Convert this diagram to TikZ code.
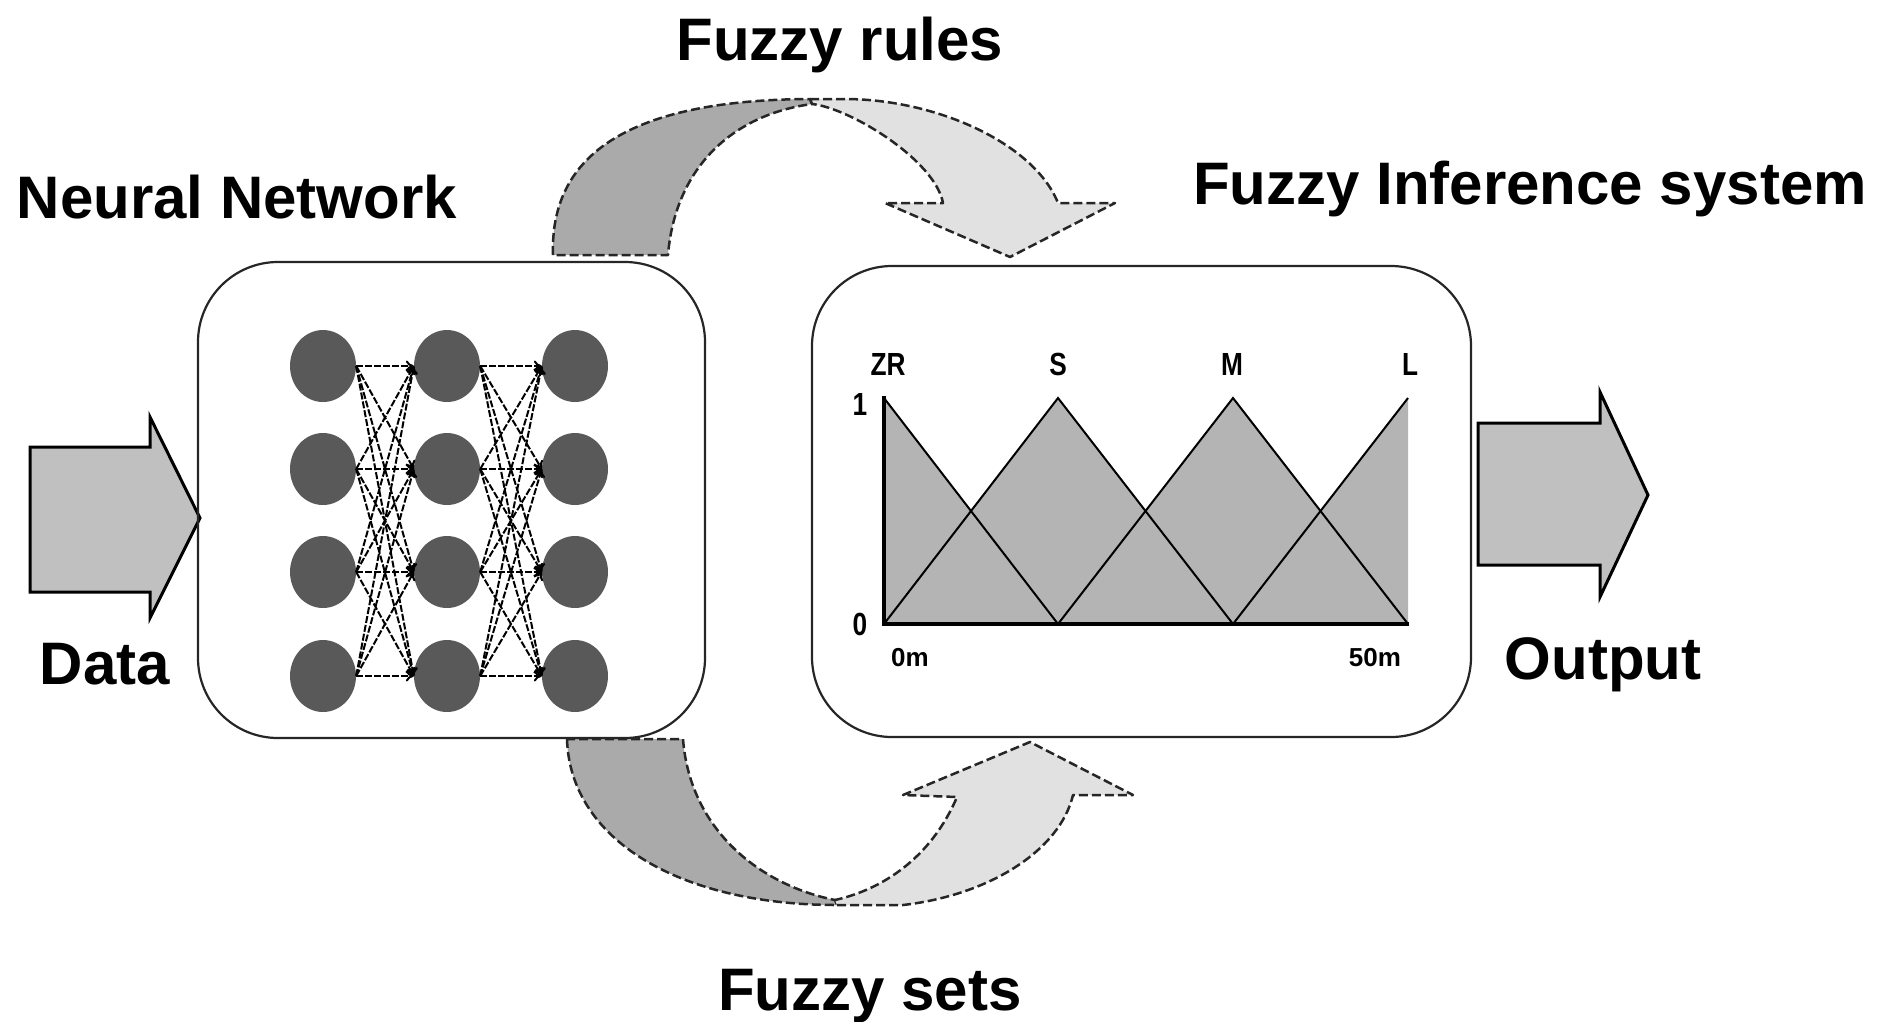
\documentclass[tikz,border=0pt]{standalone}
\usepackage{fontspec}
\setmainfont{Liberation Sans}
\newfontfamily\chartfont[FakeStretch=0.82]{Liberation Sans}
\usetikzlibrary{arrows.meta,shapes.geometric}
\definecolor{bandDark}{RGB}{170,170,170}
\definecolor{bandLight}{RGB}{225,225,225}
\definecolor{arrowGray}{RGB}{192,192,192}
\definecolor{chartGray}{RGB}{180,180,180}
\definecolor{nodeGray}{RGB}{89,89,89}
\begin{document}
\begin{tikzpicture}[x=1pt,y=-1pt,
  biglabel/.style={font=\fontsize{60}{72}\selectfont\bfseries, inner sep=0pt, anchor=base},
  chartlbl/.style={font=\chartfont\fontsize{32}{36}\selectfont\bfseries, inner sep=0pt},
  axislbl/.style={font=\fontsize{26}{30}\selectfont\bfseries, inner sep=0pt},
  mainbox/.style={draw=black!85, line width=2.2pt, rounded corners=80pt, minimum width=#1},
  neuron/.style={ellipse, fill=nodeGray, minimum width=66pt, minimum height=72pt, inner sep=0pt},
  conn/.style={line width=2pt, dash pattern=on 7pt off 2pt, -{To[length=8pt,width=11pt]}},
  bandedge/.style={draw=black!85, line width=2.5pt, dash pattern=on 9pt off 4pt, line join=round},
  blockarrow/.style={fill=arrowGray, draw=black, line width=3pt, line join=miter}
]
\useasboundingbox (0,0) rectangle (1882,1021);

% curved arrow: fuzzy rules
\filldraw[fill=bandDark, bandedge] (553,255) .. controls (550,160) and (620,100) .. (810,99)
  -- (812,104) .. controls (730,115) and (675,170) .. (668,255) -- cycle;
\filldraw[fill=bandLight, bandedge] (810,99) -- (847,99) .. controls (940,100) and (1035,145) .. (1058,203)
  -- (1115,203) -- (1010,257) -- (885,203) -- (943,203)
  .. controls (935,160) and (850,108) .. (812,104) -- cycle;

% curved arrow: fuzzy sets
\filldraw[fill=bandDark, bandedge] (567,739) .. controls (570,840) and (680,905) .. (837,905)
  -- (835,900) .. controls (760,885) and (690,830) .. (683,739) -- cycle;
\filldraw[fill=bandLight, bandedge] (837,905) -- (903,905) .. controls (990,895) and (1060,850) .. (1073,795)
  -- (1133,795) -- (1030,742) -- (903,795) -- (957,797)
  .. controls (930,860) and (880,890) .. (835,900) -- cycle;

% data and output arrows
\filldraw[blockarrow] (30,447) -- (150,447) -- (150,417) -- (200,518) -- (150,618) -- (150,592) -- (30,592) -- cycle;
\filldraw[blockarrow] (1478,423) -- (1600,423) -- (1600,392) -- (1648,495) -- (1600,597) -- (1600,565) -- (1478,565) -- cycle;

% boxes
\node[mainbox=507pt, minimum height=476pt] (nn) at (451.5,500) {};
\node[mainbox=659pt, minimum height=471pt] (fis) at (1141.5,501.5) {};

% neural network
\foreach \c/\x in {a/323,b/447,c/575}
  \foreach \r/\y in {1/366,2/469,3/572,4/676}
    \node[neuron] (\c\r) at (\x,\y) {};
\foreach \i in {1,2,3,4}
  \foreach \j in {1,2,3,4} {
    \draw[conn] (a\i.east) -- (b\j.west);
    \draw[conn] (b\i.east) -- (c\j.west);
  }

% membership functions
\fill[chartGray] (884,398) -- (971,511) -- (1058,398) -- (1145.5,511) -- (1233,398)
  -- (1320.5,511) -- (1408,398) -- (1408,624) -- (884,624) -- cycle;
\draw[line width=2pt] (884,398) -- (1058,624);
\draw[line width=2pt] (884,624) -- (1058,398) -- (1233,624);
\draw[line width=2pt] (1058,624) -- (1233,398) -- (1408,624);
\draw[line width=2pt] (1233,624) -- (1408,398);
\draw[line width=4.5pt] (884,396) -- (884,624) -- (1409,624);

\node[chartlbl] (zr) at (888,364) {ZR};
\node[chartlbl] (ls) at (1058,364) {S};
\node[chartlbl] (lm) at (1232,364) {M};
\node[chartlbl] (ll) at (1410,364) {L};
\node[chartlbl] (one) at (860,404) {1};
\node[chartlbl] (zero) at (860,624) {0};
\node[axislbl] (zm) at (910,658) {0m};
\node[axislbl] (fm) at (1375,658) {50m};

% labels
\node[biglabel] (lblrules) at (840,60) {Fuzzy rules};
\node[biglabel] (lblnn) at (237,218) {Neural Network};
\node[biglabel] (lblfis) at (1530,204) {Fuzzy Inference system};
\node[biglabel] (lbldata) at (105,684) {Data};
\node[biglabel] (lblout) at (1603,679) {Output};
\node[biglabel] (lblsets) at (870,1010) {Fuzzy sets};
\end{tikzpicture}
\end{document}
